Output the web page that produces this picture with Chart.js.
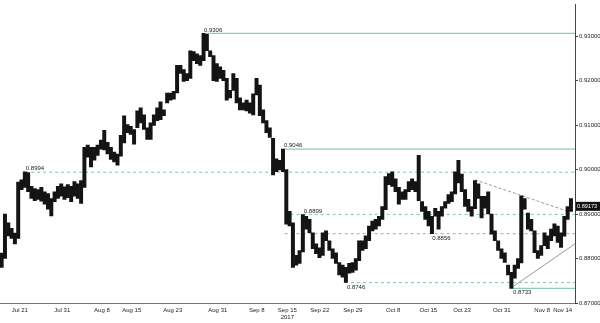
<!DOCTYPE html>
<html>
<head>
<meta charset="utf-8">
<script src="https://cdn.jsdelivr.net/npm/chart.js@4.4.1/dist/chart.umd.min.js"></script>
<style>
  html, body { margin: 0; padding: 0; background: #fff; }
  #wrap { width: 600px; height: 323px; }
</style>
</head>
<body>
<div id="wrap"><canvas id="chart" width="600" height="323"></canvas></div>
<script>
// half-day sessions, x axis = trading days since Tue Jul 18 2017
const lows = [
  0.8780, 0.8800, 0.8851, 0.8845, 0.8833, 0.8845, 0.8955, 0.8960, 0.8950, 0.8935,
  0.8930, 0.8933, 0.8929, 0.8922, 0.8911, 0.8896, 0.8928, 0.8935, 0.8940, 0.8933,
  0.8937, 0.8928, 0.8940, 0.8935, 0.8924, 0.8960, 0.9028, 0.9006, 0.9021, 0.9032,
  0.9046, 0.9044, 0.9035, 0.9023, 0.9017, 0.9010, 0.9030, 0.9060, 0.9083, 0.9079,
  0.9057, 0.9094, 0.9105, 0.9090, 0.9068, 0.9068, 0.9099, 0.9110, 0.9112, 0.9121,
  0.9150, 0.9156, 0.9158, 0.9172, 0.9216, 0.9198, 0.9200, 0.9205, 0.9245, 0.9238,
  0.9234, 0.9245, 0.9267, 0.9254, 0.9200, 0.9198, 0.9205, 0.9200, 0.9156, 0.9161,
  0.9178, 0.9150, 0.9134, 0.9134, 0.9132, 0.9127, 0.9123, 0.9168, 0.9121, 0.9105,
  0.9083, 0.9072, 0.8988, 0.8995, 0.8999, 0.8995, 0.8877, 0.8873, 0.8780, 0.8785,
  0.8789, 0.8815, 0.8866, 0.8858, 0.8822, 0.8811, 0.8802, 0.8807, 0.8840, 0.8818,
  0.8800, 0.8789, 0.8763, 0.8758, 0.8746, 0.8767, 0.8769, 0.8774, 0.8795, 0.8818,
  0.8822, 0.8840, 0.8862, 0.8866, 0.8873, 0.8888, 0.8910, 0.8966, 0.8962, 0.8950,
  0.8922, 0.8933, 0.8933, 0.8950, 0.8955, 0.8950, 0.8930, 0.8906, 0.8888, 0.8873,
  0.8856, 0.8895, 0.8866, 0.8895, 0.8913, 0.8924, 0.8928, 0.8945, 0.8970, 0.8950,
  0.8917, 0.8906, 0.8895, 0.8912, 0.8935, 0.8891, 0.8913, 0.8900, 0.8855, 0.8840,
  0.8818, 0.8800, 0.8791, 0.8763, 0.8733, 0.8756, 0.8778, 0.8790, 0.8911, 0.8866,
  0.8862, 0.8813, 0.8800, 0.8807, 0.8829, 0.8822, 0.8840, 0.8851, 0.8836, 0.8825,
  0.8850, 0.8888, 0.8906
];
const highs = [
  0.8812, 0.8900, 0.8880, 0.8868, 0.8857, 0.8972, 0.8977, 0.8995, 0.8993, 0.8962,
  0.8957, 0.8955, 0.8960, 0.8950, 0.8946, 0.8935, 0.8950, 0.8962, 0.8968, 0.8961,
  0.8966, 0.8962, 0.8973, 0.8968, 0.8975, 0.9050, 0.9055, 0.9050, 0.9050, 0.9055,
  0.9066, 0.9088, 0.9061, 0.9050, 0.9039, 0.9035, 0.9077, 0.9121, 0.9101, 0.9097,
  0.9090, 0.9132, 0.9139, 0.9123, 0.9094, 0.9105, 0.9123, 0.9139, 0.9152, 0.9134,
  0.9172, 0.9172, 0.9176, 0.9234, 0.9234, 0.9225, 0.9216, 0.9267, 0.9265, 0.9260,
  0.9256, 0.9306, 0.9304, 0.9267, 0.9256, 0.9238, 0.9231, 0.9223, 0.9205, 0.9178,
  0.9216, 0.9205, 0.9161, 0.9150, 0.9156, 0.9150, 0.9170, 0.9205, 0.9190, 0.9134,
  0.9110, 0.9094, 0.9070, 0.9024, 0.9021, 0.9046, 0.9000, 0.8906, 0.8880, 0.8807,
  0.8818, 0.8899, 0.8895, 0.8888, 0.8858, 0.8833, 0.8824, 0.8858, 0.8862, 0.8840,
  0.8822, 0.8813, 0.8791, 0.8785, 0.8780, 0.8789, 0.8791, 0.8800, 0.8840, 0.8840,
  0.8851, 0.8873, 0.8884, 0.8888, 0.8895, 0.8917, 0.8984, 0.8991, 0.8995, 0.8979,
  0.8960, 0.8950, 0.8955, 0.8973, 0.8979, 0.8973, 0.9032, 0.8928, 0.8917, 0.8906,
  0.8895, 0.8913, 0.8906, 0.8917, 0.8928, 0.8944, 0.8950, 0.8995, 0.9021, 0.8990,
  0.8955, 0.8933, 0.8917, 0.8975, 0.8968, 0.8940, 0.8940, 0.8950, 0.8900, 0.8862,
  0.8840, 0.8822, 0.8813, 0.8785, 0.8769, 0.8785, 0.8800, 0.8941, 0.8935, 0.8902,
  0.8888, 0.8862, 0.8818, 0.8829, 0.8858, 0.8851, 0.8866, 0.8878, 0.8873, 0.8858,
  0.8895, 0.8917, 0.8935
];
const lastPrice = 0.89173;

const tickDays = [3.0, 9.4, 15.4, 19.9, 26.1, 32.9, 38.8, 43.4, 48.3, 53.3, 59.4, 64.7, 69.8, 75.8, 81.9, 85.0];
const tickLabels = ['Jul 21', 'Jul 31', 'Aug 8', 'Aug 15', 'Aug 23', 'Aug 31', 'Sep 8', ['Sep 15', '2017'],
  'Sep 22', 'Sep 29', 'Oct 8', 'Oct 15', 'Oct 23', 'Oct 31', 'Nov 8', 'Nov 14'];

// key highs / lows marked on the chart
const keyLevels = [0.9306, 0.9046, 0.8994, 0.8899, 0.8856, 0.8746, 0.8733];
const keyLevelDays = [30.8, 42.9, 3.9, 45.9, 65.3, 52.4, 77.5];
const lineFromDays = [31.0, 42.9, 3.8, 43.0, 43.0, 52.1, 77.5];

const resistanceLine = [[71.75, 0.8977], [85.8, 0.8906]];
const supportLine = [[77.5, 0.8737], [86.86, 0.8833]];

const xMax = 86.86;
const solidIdx = [0, 1, 6];
const belowIdx = [4, 5, 6];

const bars = lows.map((lo, i) => ({ x: 0.25 + i * 0.5, y: [lo, highs[i]] }));

const levelSets = keyLevels.map((v, i) => ({
    type: 'line',
    data: [{ x: lineFromDays[i], y: v }, { x: xMax, y: v }],
    borderColor: '#8ccbbd',
    borderWidth: 1.2,
    borderDash: solidIdx.includes(i) ? [] : [3, 3],
    pointRadius: 0,
    order: 2
}));

const trendSets = [
    {
        type: 'line',
        data: resistanceLine.map(p => ({ x: p[0], y: p[1] })),
        borderColor: '#9a9a9a',
        borderWidth: 1,
        borderDash: [3, 2],
        pointRadius: 0,
        order: 2
    },
    {
        type: 'line',
        data: supportLine.map(p => ({ x: p[0], y: p[1] })),
        borderColor: '#9a9a9a',
        borderWidth: 1,
        pointRadius: 0,
        order: 2
    }
];

const FONT = '"Liberation Sans", Arial, sans-serif';

const annotate = {
    id: 'annotate',
    afterDatasetsDraw(chart) {
        const { ctx, scales: { x, y }, chartArea } = chart;
        ctx.save();
        ctx.font = '6px ' + FONT;
        ctx.fillStyle = '#222';
        keyLevels.forEach((v, i) => {
            const px = x.getPixelForValue(keyLevelDays[i]);
            const py = y.getPixelForValue(v);
            if (belowIdx.includes(i)) {
                ctx.textBaseline = 'top';
                ctx.fillText(v.toFixed(4), px, py + 1.5);
            } else {
                ctx.textBaseline = 'bottom';
                ctx.fillText(v.toFixed(4), px, py - 0.5);
            }
        });
        // last price tag on the axis
        const py = y.getPixelForValue(lastPrice);
        ctx.fillStyle = '#111';
        ctx.fillRect(chartArea.right + 1, py - 4.5, 24, 9);
        ctx.fillStyle = '#fff';
        ctx.textBaseline = 'middle';
        ctx.font = '5.6px ' + FONT;
        ctx.fillText(lastPrice.toFixed(5), chartArea.right + 2, py + 0.5);
        ctx.restore();
    }
};

new Chart(document.getElementById('chart'), {
    type: 'bar',
    data: {
        datasets: [{
            data: bars,
            backgroundColor: '#141414',
            borderWidth: 0,
            barPercentage: 1,
            categoryPercentage: 1,
            order: 0
        }, ...levelSets, ...trendSets]
    },
    options: {
        responsive: false,
        animation: false,
        devicePixelRatio: 1,
        layout: { padding: 0 },
        plugins: { legend: { display: false }, tooltip: { enabled: false } },
        scales: {
            x: {
                type: 'linear',
                min: 0,
                max: xMax,
                offset: false,
                afterBuildTicks: axis => { axis.ticks = tickDays.map(v => ({ value: v })); },
                afterFit: axis => { axis.height = 20; },
                ticks: {
                    autoSkip: false,
                    maxRotation: 0,
                    padding: 3,
                    color: '#222',
                    font: { size: 6, family: FONT, lineHeight: 1.3 },
                    callback: (v, i) => tickLabels[i]
                },
                grid: { drawOnChartArea: false, drawTicks: false },
                border: { color: '#777', dash: [2, 2] }
            },
            y: {
                position: 'right',
                min: 0.87,
                max: 0.93708,
                afterFit: axis => { axis.width = 25; },
                ticks: {
                    stepSize: 0.01,
                    includeBounds: false,
                    padding: 1,
                    color: '#222',
                    font: { size: 6, family: FONT },
                    callback: v => v.toFixed(5)
                },
                grid: { drawOnChartArea: false, tickLength: 3, color: '#444' },
                border: { color: '#444' }
            }
        }
    },
    plugins: [annotate]
});
</script>
</body>
</html>
